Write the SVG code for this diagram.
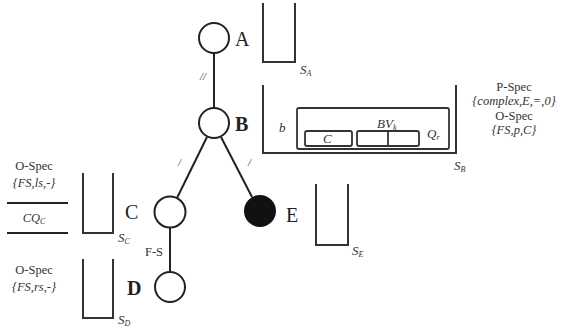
<svg xmlns="http://www.w3.org/2000/svg" width="568" height="336" viewBox="0 0 568 336" font-family="'Liberation Serif', 'DejaVu Serif', serif">
<style>
.n{fill:#fff;stroke:#222;stroke-width:2}
.f{fill:#111;stroke:#111;stroke-width:2}
.e{stroke:#222;stroke-width:2;fill:none}
.bk{fill:none;stroke:#333;stroke-width:2}
.bx{fill:none;stroke:#333;stroke-width:1.8}
text{font-family:'Liberation Serif','DejaVu Serif',serif}
.lb{font-size:20px;fill:#222}
.t{font-size:12.5px;fill:#333;text-anchor:middle}
.i{font-style:italic;font-size:13px;fill:#333}
.s{font-style:italic;font-size:11px;fill:#333}
.sub{font-size:8px}
</style>
<rect width="568" height="336" fill="#fff"/>
<g id="connectors">
<line class="e" x1="214" y1="53" x2="214" y2="108"/>
<line class="e" x1="207" y1="137" x2="177" y2="198"/>
<line class="e" x1="221" y1="137" x2="252" y2="197"/>
<line class="e" x1="170" y1="228" x2="170" y2="272"/>
<text class="s" x="200" y="80" font-size="10">//</text>
<text class="s" x="178" y="166" font-size="10">/</text>
<text class="s" x="248" y="166" font-size="10">/</text>
<text class="t" x="154" y="256" font-size="12">F-S</text>
</g>
<g id="A">
<circle class="n" cx="214" cy="38" r="15"/>
<text class="lb" x="235" y="46">A</text>
<path class="bk" d="M263,3 V62 H295 V3"/>
<text class="i" x="300" y="74">S<tspan class="sub" dy="2">A</tspan></text>
</g>
<g id="B">
<circle class="n" cx="214" cy="123" r="15"/>
<text class="lb" x="235" y="131" font-weight="bold">B</text>
<path class="bk" d="M263,85 V153 H456 V85"/>
<text class="i" x="454" y="170">S<tspan class="sub" dy="2">B</tspan></text>
<text class="i" x="279" y="132">b</text>
<rect class="bx" x="297" y="108" width="152" height="41" rx="2"/>
<rect class="bx" x="305" y="131" width="47" height="15" rx="2"/>
<text class="i" x="323" y="143">C</text>
<rect class="bx" x="357" y="131" width="62" height="15" rx="2"/>
<line class="bx" x1="388" y1="131" x2="388" y2="146"/>
<text class="i" x="377" y="128">BV<tspan class="sub" dy="2">k</tspan></text>
<text class="i" x="427" y="138">Q<tspan class="sub" dy="2">r</tspan></text>
<text class="t" x="514" y="91">P-Spec</text>
<text class="t" x="514" y="105" font-style="italic">{complex,E,=,0}</text>
<text class="t" x="514" y="120">O-Spec</text>
<text class="t" x="514" y="134" font-style="italic">{FS,p,C}</text>
</g>
<g id="C">
<circle class="n" cx="170" cy="212" r="15.5"/>
<text class="lb" x="125" y="219">C</text>
<path class="bk" d="M83,173 V233 H113 V173"/>
<text class="i" x="118" y="242">S<tspan class="sub" dy="2">C</tspan></text>
<text class="t" x="34" y="170">O-Spec</text>
<text class="t" x="34" y="187" font-style="italic">{FS,ls,-}</text>
<line class="e" x1="7" y1="203" x2="68" y2="203"/>
<text class="t" x="34" y="222" font-style="italic">CQ<tspan class="sub" dy="2">C</tspan></text>
<line class="e" x1="7" y1="233" x2="68" y2="233"/>
</g>
<g id="D">
<circle class="n" cx="170" cy="287" r="15"/>
<text class="lb" x="127" y="295" font-weight="bold">D</text>
<path class="bk" d="M83,259 V318 H113 V259"/>
<text class="i" x="118" y="324">S<tspan class="sub" dy="2">D</tspan></text>
<text class="t" x="34" y="274">O-Spec</text>
<text class="t" x="34" y="291" font-style="italic">{FS,rs,-}</text>
</g>
<g id="E">
<circle class="f" cx="260" cy="211" r="15"/>
<text class="lb" x="286" y="222">E</text>
<path class="bk" d="M316,184 V245 H348 V184"/>
<text class="i" x="352" y="255">S<tspan class="sub" dy="2">E</tspan></text>
</g>
</svg>
